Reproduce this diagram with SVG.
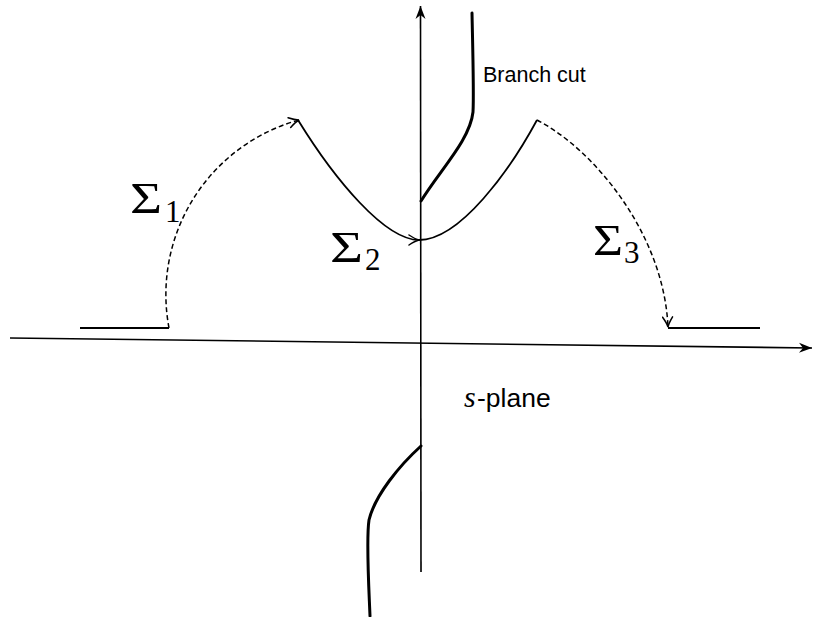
<svg xmlns="http://www.w3.org/2000/svg" width="813" height="617" viewBox="0 0 813 617">
<defs>
<style>
.ax{stroke:#000;stroke-width:1.6;fill:none}
.cut{stroke:#000;stroke-width:3;fill:none;stroke-linecap:round}
.sol{stroke:#000;stroke-width:1.8;fill:none}
.dash{stroke:#000;stroke-width:1.5;fill:none;stroke-dasharray:5,3}
.sig{font-family:"Liberation Serif","DejaVu Serif",serif;font-size:45px;fill:#000}
.sub{font-family:"Liberation Serif","DejaVu Serif",serif;font-size:31px;fill:#000}
.lbl{font-family:"Liberation Sans",Arial,sans-serif;fill:#000}
</style>
<marker id="axh" markerUnits="userSpaceOnUse" markerWidth="16" markerHeight="12" refX="0" refY="0" viewBox="-14 -6 16 12" orient="auto">
<path d="M0,0 L-13,-5 L-9,0 L-13,5 Z" fill="#000"/>
</marker>
<marker id="oh" markerUnits="userSpaceOnUse" markerWidth="14" markerHeight="12" refX="0" refY="0" viewBox="-12 -6 14 12" orient="auto">
<path d="M-10,-5 Q-4,-1 0,0 Q-4,1 -10,5" fill="none" stroke="#000" stroke-width="1.5" stroke-linecap="round"/>
</marker>
</defs>
<g id="axes">
<path class="ax" d="M10,338 L812,348" marker-end="url(#axh)"/>
<path class="ax" d="M421,572 L420.5,6" marker-end="url(#axh)"/>
</g>
<g id="branch-cuts">
<path class="cut" d="M472,13 C473,60 474,95 473,112 C470,140 440,170 421,201"/>
<path class="cut" d="M421,446 C400,465 375,495 369,520 C366,540 369,590 370,616"/>
</g>
<g id="connectors">
<path class="sol" d="M80,328 H169"/>
<path class="dash" d="M169,328 A181,181 0 0 1 299,120" marker-end="url(#oh)"/>
<path class="sol" d="M298,120 C335,180 385,240 419,240" marker-end="url(#oh)"/>
<path class="sol" d="M419,240 C460,240 510,170 537,120"/>
<path class="dash" d="M537,120 C595,150 664,235 668,327" marker-end="url(#oh)"/>
<path class="sol" d="M668,328 H760"/>
</g>
<g id="labels">
<text class="lbl" x="483" y="82" font-size="21.5">Branch cut</text>
<text x="464" y="407" font-family="Liberation Serif,serif" font-style="italic" font-size="30">s</text>
<text class="lbl" x="477" y="407" font-size="26.5">-plane</text>
<g id="sigma1"><text class="sig" x="130" y="213" textLength="32" lengthAdjust="spacingAndGlyphs">Σ</text><text class="sub" x="165" y="222">1</text></g>
<g id="sigma2"><text class="sig" x="330" y="262" textLength="33" lengthAdjust="spacingAndGlyphs">Σ</text><text class="sub" x="365" y="270">2</text></g>
<g id="sigma3"><text class="sig" x="593" y="255" textLength="30" lengthAdjust="spacingAndGlyphs">Σ</text><text class="sub" x="624" y="263">3</text></g>
</g>
</svg>
